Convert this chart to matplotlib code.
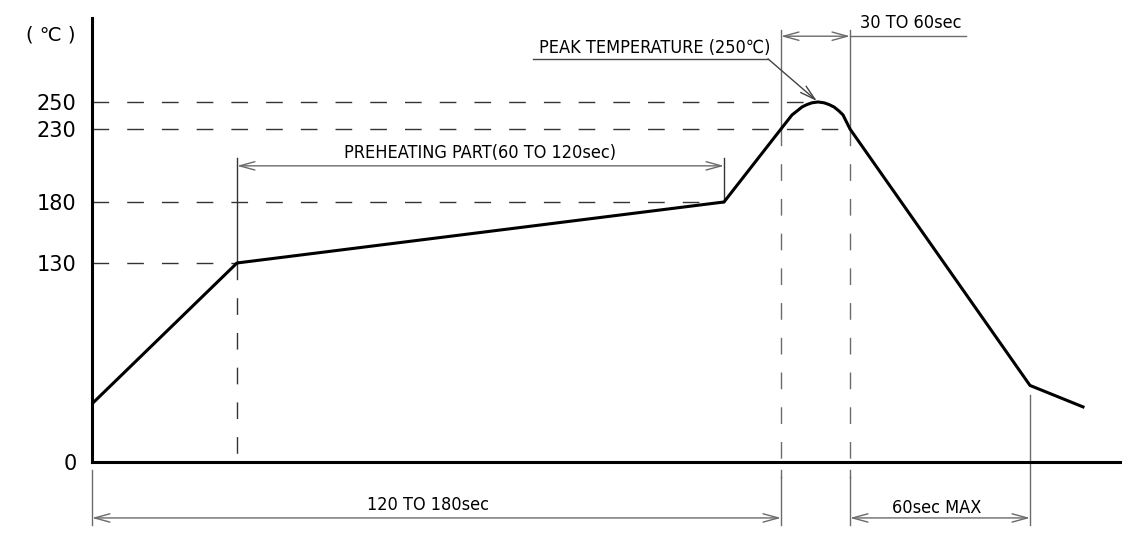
"""Reflow soldering temperature profile (schematic)."""

import numpy as np
import matplotlib

matplotlib.use("Agg")
import matplotlib.pyplot as plt
from matplotlib import font_manager
from matplotlib.patches import FancyArrowPatch


# schematic time position along the axis, and temperature in deg C
profile_time = [0, 145, 632, 689, 700, 705, 710, 715, 720, 726, 732, 737, 742, 747, 751, 758, 938, 991]
profile_temp = [38, 130, 180, 230, 240.4, 243.3, 246.3, 248.1, 249.4, 250,
                249.4, 248.1, 246.3, 243.3, 240.4, 230, 50, 36]

tick_temps = [0, 130, 180, 230, 250]
tick_labels = ["0", "130", "180", "230", "250"]

preheat_label = "PREHEATING PART(60 TO 120sec)"
ramp_label = "120 TO 180sec"
peak_window_label = "30 TO 60sec"
cool_label = "60sec MAX"
peak_label = "PEAK TEMPERATURE (250\u2103)"
unit_label = "( \u2103 )"

# the drawing stretches the temperature axis piecewise
SCALE_T = [-100, 0, 130, 180, 230, 250, 400]
SCALE_P = [-153.1, 0, 199, 260, 333, 360, 562.5]
X_MAX = 1028
Y_MAX = 312.2


def fwd(t):
    return np.interp(t, SCALE_T, SCALE_P)


def inv(p):
    return np.interp(p, SCALE_P, SCALE_T)


def yf(temp):
    """temperature -> axes fraction"""
    return float(fwd(temp) / fwd(Y_MAX))


# pick a narrow face if one is installed
names = {f.name for f in font_manager.fontManager.ttflist}
narrow_faces = {(f.name, f.stretch) for f in font_manager.fontManager.ttflist}
if "Liberation Sans Narrow" in names:
    NARROW = dict(family=["Liberation Sans Narrow", "DejaVu Sans"], fontsize=14)
elif ("DejaVu Sans", "condensed") in narrow_faces or ("DejaVu Sans", "semi-condensed") in narrow_faces:
    NARROW = dict(family=["DejaVu Sans"], fontstretch="condensed", fontsize=13)
else:
    NARROW = dict(family=["Liberation Sans", "DejaVu Sans"], fontsize=12.5)

GREY = "#6b6b6b"
DASH = (12, 13)

fig = plt.figure(figsize=(11.28, 5.39), dpi=100)
ax = fig.add_axes([92 / 1128, 77 / 539, 1028 / 1128, 444 / 539])
ax.set_yscale("function", functions=(fwd, inv))
ax.set_xlim(0, X_MAX)
ax.set_ylim(0, Y_MAX)

for side in ("top", "right"):
    ax.spines[side].set_visible(False)
ax.spines["left"].set_linewidth(2.2)
ax.spines["bottom"].set_linewidth(2.2)
ax.set_xticks([])
ax.set_yticks(tick_temps)
ax.set_yticklabels(tick_labels, fontsize=15, family=["DejaVu Sans"])
ax.tick_params(axis="y", length=0, pad=11)
ax.yaxis.set_minor_locator(matplotlib.ticker.NullLocator())

xt = ax.get_xaxis_transform()

t_start, t_pre0, t_pre1 = profile_time[0], profile_time[1], profile_time[2]
t_up, t_down = profile_time[3], profile_time[-3]
t_peak = profile_time[profile_temp.index(max(profile_temp))]
t_cool = profile_time[-2]

# dashed guide lines at the tick temperatures
for temp, t_end in [(130, t_pre0), (180, t_pre1), (230, t_down), (250, t_peak)]:
    ax.plot([0, t_end], [temp, temp], color="#333333", lw=1.0, dashes=DASH, zorder=1)

# vertical extension lines
ax.plot([t_pre0, t_pre0], [0.685, yf(130)], color="#333333", lw=1.0, transform=xt)
ax.plot([t_pre0, t_pre0], [yf(130), 0], color="#333333", lw=1.0, dashes=DASH, transform=xt)
ax.plot([t_pre1, t_pre1], [0.685, yf(180)], color="#333333", lw=1.0, transform=xt)
for t in (t_up, t_down):
    ax.plot([t, t], [0.973, yf(230)], color=GREY, lw=1.0, transform=xt)
    ax.plot([t, t], [yf(230), -0.036], color=GREY, lw=1.0, dashes=DASH, transform=xt, clip_on=False)
    ax.plot([t, t], [-0.018, -0.142], color=GREY, lw=1.0, transform=xt, clip_on=False)
ax.plot([t_start, t_start], [-0.018, -0.142], color=GREY, lw=1.0, transform=xt, clip_on=False)
ax.plot([t_cool, t_cool], [0.151, -0.142], color=GREY, lw=1.0, transform=xt, clip_on=False)
ax.plot([t_down, 874], [0.959, 0.959], color=GREY, lw=1.0, transform=xt, clip_on=False)

# profile curve
ax.plot(profile_time, profile_temp, color="black", lw=2.2, solid_joinstyle="round", zorder=3)


def dim_arrow(x0, x1, y, style="<->"):
    arr = FancyArrowPatch(
        (x0, y), (x1, y), transform=xt, arrowstyle=f"{style},head_length=1.1,head_width=0.3",
        mutation_scale=10, color=GREY, lw=1.0, shrinkA=0, shrinkB=0, clip_on=False,
    )
    ax.add_patch(arr)


dim_arrow(t_pre0, t_pre1, 0.667)
dim_arrow(t_up, t_down, 0.959)
dim_arrow(t_start, t_up, -0.126)
dim_arrow(t_down, t_cool, -0.126)

text_kw = dict(color="black", transform=xt, clip_on=False, **NARROW)
ax.text((t_pre0 + t_pre1) / 2, 0.685, preheat_label, ha="center", va="baseline", **text_kw)
ax.text(336, -0.108, ramp_label, ha="center", va="baseline", **text_kw)
ax.text(845, -0.115, cool_label, ha="center", va="baseline", **text_kw)
ax.text(768, 0.977, peak_window_label, ha="left", va="baseline", **text_kw)
ax.text(447, 0.921, peak_label, ha="left", va="baseline", **text_kw)

# peak leader line
ax.plot([441, 676], [0.908, 0.908], color="#444444", lw=1.0, transform=xt, clip_on=False)
ax.annotate(
    "", xy=(t_peak, max(profile_temp)), xycoords="data", xytext=(676, 0.908), textcoords=xt,
    arrowprops=dict(arrowstyle="->,head_length=1.1,head_width=0.3", mutation_scale=10,
                    color="#444444", lw=1.0, shrinkA=0, shrinkB=1),
)

ax.text(-0.040, 0.962, unit_label, transform=ax.transAxes, ha="center", va="center",
        fontsize=14, family=["DejaVu Sans", "Noto Sans CJK SC"])

fig.savefig("out.png", dpi=100)
